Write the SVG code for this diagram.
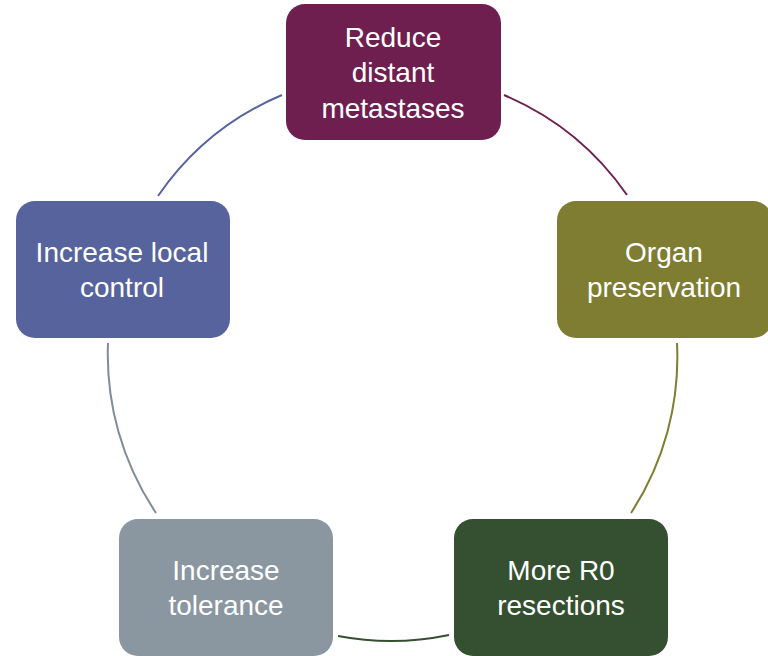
<svg xmlns="http://www.w3.org/2000/svg" width="768" height="656" viewBox="0 0 768 656">
<style>
.box{stroke:none}
.lbl{font-family:"Liberation Sans",Arial,sans-serif;font-size:28px;fill:#ffffff;text-anchor:middle}
.arc{fill:none;stroke-width:2}
</style>
<rect width="768" height="656" fill="#ffffff"/>
<g id="connectors">
<path class="arc" stroke="#6F1F4F" d="M504,95 A284.5,284.5 0 0 1 627,195"/>
<path class="arc" stroke="#7E7D32" d="M677,343 A284.5,284.5 0 0 1 631,513"/>
<path class="arc" stroke="#345030" d="M449,635 A284.5,284.5 0 0 1 338,636"/>
<path class="arc" stroke="#7F8C99" d="M156,513 A284.5,284.5 0 0 1 108,343"/>
<path class="arc" stroke="#5763A0" d="M158,196 A284.5,284.5 0 0 1 282,95"/>
</g>
<g id="node-top">
<rect class="box" x="286" y="4" width="215" height="136" rx="19" fill="#6F1F4F"/>
<text class="lbl" x="393" y="47">Reduce</text>
<text class="lbl" x="393" y="82">distant</text>
<text class="lbl" x="393" y="118">metastases</text>
</g>
<g id="node-right">
<rect class="box" x="557" y="201" width="215" height="137" rx="19" fill="#7E7D32"/>
<text class="lbl" x="664" y="262">Organ</text>
<text class="lbl" x="664" y="297">preservation</text>
</g>
<g id="node-bottom-right">
<rect class="box" x="454" y="519" width="214" height="137" rx="19" fill="#345030"/>
<text class="lbl" x="561" y="580">More R0</text>
<text class="lbl" x="561" y="615">resections</text>
</g>
<g id="node-bottom-left">
<rect class="box" x="119" y="519" width="214" height="137" rx="19" fill="#8A96A0"/>
<text class="lbl" x="226" y="580">Increase</text>
<text class="lbl" x="226" y="615">tolerance</text>
</g>
<g id="node-left">
<rect class="box" x="16" y="201" width="214" height="137" rx="19" fill="#57639D"/>
<text class="lbl" x="122" y="262">Increase local</text>
<text class="lbl" x="122" y="297">control</text>
</g>
</svg>
